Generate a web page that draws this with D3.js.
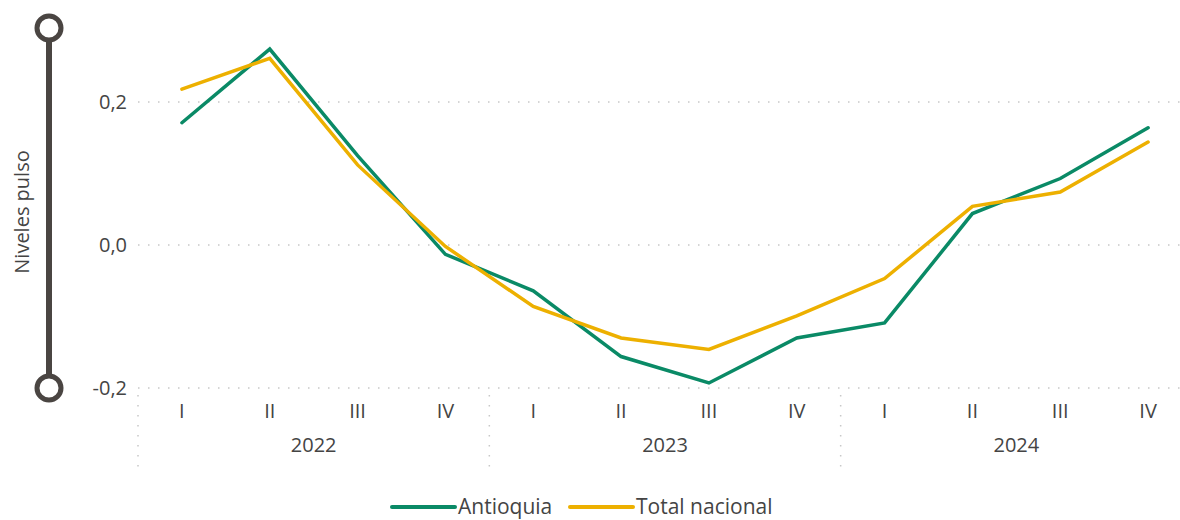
<!DOCTYPE html>
<html>
<head>
<meta charset="utf-8">
<script src="https://cdn.jsdelivr.net/npm/d3@7"></script>
<style>
  body { margin: 0; background: #fff; }
  svg text { font-family: "Open Sans", "Noto Sans", sans-serif; fill: #444; }
</style>
</head>
<body>
<script>
// data
var years = ["2022", "2023", "2024"];
var quarters = ["I", "II", "III", "IV"];
var antioquia = [0.171, 0.274, 0.125, -0.013, -0.064, -0.156, -0.193, -0.130, -0.109, 0.044, 0.093, 0.164];
var totalNacional = [0.218, 0.261, 0.112, -0.002, -0.086, -0.130, -0.146, -0.099, -0.047, 0.054, 0.074, 0.144];
var yTicks = [-0.2, 0.0, 0.2];
var seriesNames = ["Antioquia", "Total nacional"];
var colors = ["#0a8a66", "#edb000"];

function drawChart() {
  var width = 1180, height = 520;
  var plotLeft = 138, plotRight = 1192, plotTop = 30.5, plotBottom = 388;

  var svg = d3.select("body").append("svg").attr("width", width).attr("height", height);

  var keys = [];
  years.forEach(function (yr) { quarters.forEach(function (q) { keys.push(yr + "-" + q); }); });

  var x = d3.scaleBand().domain(keys).range([plotLeft, plotRight]);
  var y = d3.scaleLinear().domain([-0.2, 0.3]).range([plotBottom, plotTop]);
  var xYear = d3.scaleBand().domain(years).range([plotLeft, plotRight]);

  // gridlines
  svg.append("g").selectAll("line").data(yTicks).enter().append("line")
    .attr("x1", plotLeft).attr("x2", width)
    .attr("y1", function (d) { return y(d); }).attr("y2", function (d) { return y(d); })
    .attr("stroke", "#c8c8c8").attr("stroke-width", 1.5).attr("stroke-dasharray", "1.5,8.5");

  // y labels (hyphen minus, decimal comma)
  var fmt = function (d) { return d3.format(".1f")(d).replace(".", ",").replace("\u2212", "-"); };
  svg.append("g").selectAll("text").data(yTicks).enter().append("text")
    .attr("x", 127).attr("y", function (d) { return y(d); }).attr("dy", "0.35em")
    .attr("text-anchor", "end").style("font-size", "20px")
    .text(fmt);

  // y axis title
  svg.append("text").attr("transform", "translate(29,212) rotate(-90)")
    .attr("text-anchor", "middle").style("font-size", "20px").text("Niveles pulso");

  // decorative bar
  svg.append("line").attr("x1", 49).attr("x2", 49).attr("y1", 28).attr("y2", 388)
    .attr("stroke", "#4a4542").attr("stroke-width", 6);
  svg.append("g").selectAll("circle").data([28, 388]).enter().append("circle")
    .attr("cx", 49).attr("cy", function (d) { return d; }).attr("r", 12)
    .attr("fill", "#fff").attr("stroke", "#4a4542").attr("stroke-width", 5);

  // year separators
  var seps = years.map(function (yr) { return xYear(yr); });
  svg.append("g").selectAll("line").data(seps).enter().append("line")
    .attr("x1", function (d) { return d; }).attr("x2", function (d) { return d; })
    .attr("y1", 395).attr("y2", 468)
    .attr("stroke", "#c8c8c8").attr("stroke-width", 1.5).attr("stroke-dasharray", "1.5,8.5");

  // quarter labels
  svg.append("g").selectAll("text").data(keys).enter().append("text")
    .attr("x", function (d) { return x(d) + x.bandwidth() / 2; }).attr("y", 418)
    .attr("text-anchor", "middle").style("font-size", "20px")
    .text(function (d) { return d.split("-")[1]; });

  // year labels
  svg.append("g").selectAll("text").data(years).enter().append("text")
    .attr("x", function (d) { return xYear(d) + xYear.bandwidth() / 2; }).attr("y", 452)
    .attr("text-anchor", "middle").style("font-size", "20px")
    .text(function (d) { return d; });

  // lines
  var line = d3.line()
    .x(function (d, i) { return x(keys[i]) + x.bandwidth() / 2; })
    .y(function (d) { return y(d); });

  [antioquia, totalNacional].forEach(function (s, i) {
    svg.append("path").datum(s).attr("d", line)
      .attr("fill", "none").attr("stroke", colors[i]).attr("stroke-width", 3.5)
      .attr("stroke-linejoin", "miter").attr("stroke-linecap", "round");
  });

  // legend
  var legendX = [392, 570];
  seriesNames.forEach(function (n, i) {
    svg.append("line").attr("x1", legendX[i]).attr("x2", legendX[i] + 63)
      .attr("y1", 507).attr("y2", 507)
      .attr("stroke", colors[i]).attr("stroke-width", 4).attr("stroke-linecap", "round");
    svg.append("text").attr("x", legendX[i] + 66).attr("y", 514)
      .style("font-size", "21px").text(n);
  });
}

drawChart();
</script>
</body>
</html>
